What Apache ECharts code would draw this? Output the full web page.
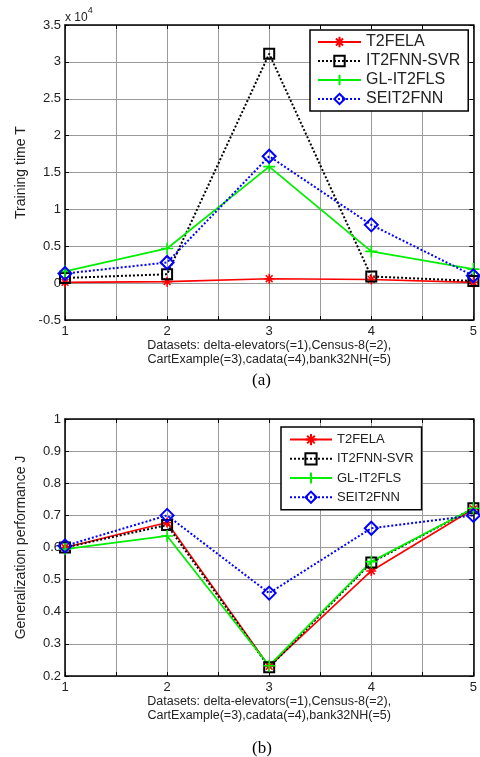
<!DOCTYPE html>
<html>
<head>
<meta charset="utf-8">
<script src="https://cdn.jsdelivr.net/npm/echarts@6/dist/echarts.min.js"></script>
<style>
  html, body { margin: 0; padding: 0; background: #fff; }
  #chart { width: 480px; height: 757px; }
</style>
</head>
<body>
<div id="chart"></div>
<script>
// datasets 1..5
const datasetIds = [1, 2, 3, 4, 5];
const methodNames = ["T2FELA", "IT2FNN-SVR", "GL-IT2FLS", "SEIT2FNN"];

// (a) training time, units of 10^4
const timeT2FELA = [0.01, 0.02, 0.06, 0.05, 0.01];
const timeSVR = [0.07, 0.12, 3.11, 0.09, 0.03];
const timeGL = [0.16, 0.47, 1.58, 0.43, 0.19];
const timeSEIT = [0.13, 0.28, 1.72, 0.79, 0.10];

// (b) generalization performance
const perfT2FELA = [0.60, 0.678, 0.23, 0.527, 0.72];
const perfSVR = [0.60, 0.67, 0.227, 0.553, 0.722];
const perfGL = [0.595, 0.636, 0.232, 0.556, 0.722];
const perfSEIT = [0.605, 0.70, 0.458, 0.66, 0.70];

const xTitle = "Datasets: delta-elevators(=1),Census-8(=2),\nCartExample(=3),cadata(=4),bank32NH(=5)";

const FONT = "Liberation Sans, Arial, sans-serif";
const starPath = "path://M5,0L5,10M0,5L10,5M1.6,1.6L8.4,8.4M8.4,1.6L1.6,8.4";
const plusPath = "path://M5,0L5,10M0,5L10,5";

const looks = {
  "T2FELA": { color: "#ff0000", type: "solid", width: 1.6, symbol: starPath, size: 10, bw: 1.6 },
  "IT2FNN-SVR": { color: "#000000", type: [2, 2], width: 2, symbol: "rect", size: 10, bw: 2 },
  "GL-IT2FLS": { color: "#00ee00", type: "solid", width: 1.8, symbol: plusPath, size: 12, bw: 1.6 },
  "SEIT2FNN": { color: "#0000ff", type: [2, 2], width: 2, symbol: "diamond", size: 13, bw: 2 }
};

function makeSeries(name, values, axisIdx) {
  const lk = looks[name];
  return {
    name: name,
    type: "line",
    xAxisIndex: axisIdx,
    yAxisIndex: axisIdx,
    data: datasetIds.map((d, i) => [d, values[i]]),
    symbol: lk.symbol,
    symbolSize: lk.size,
    showAllSymbol: true,
    lineStyle: { color: lk.color, type: lk.type, width: lk.width },
    itemStyle: { color: "rgba(0,0,0,0)", borderColor: lk.color, borderWidth: lk.bw },
    emphasis: { disabled: true },
    animation: false
  };
}

function xAxisOf(gridIndex, position, main) {
  return {
    type: "value",
    gridIndex: gridIndex,
    position: position,
    min: 1, max: 5, interval: 0.5,
    axisLine: { onZero: false, lineStyle: { color: "#000", width: 1.5 } },
    axisTick: { inside: true, length: 4, lineStyle: { color: "#000" } },
    axisLabel: {
      show: main, color: "#222", fontSize: 13, fontFamily: FONT, margin: 5,
      formatter: v => (v % 1 === 0 ? String(v) : "")
    },
    splitLine: { show: main, lineStyle: { color: "#9a9a9a", width: 1 } },
    name: main ? xTitle : "",
    nameLocation: "middle",
    nameGap: 18,
    nameTextStyle: { color: "#222", fontSize: 12.5, lineHeight: 14, fontFamily: FONT }
  };
}

function yAxisOf(gridIndex, position, main, min, max, interval, title) {
  return {
    type: "value",
    gridIndex: gridIndex,
    position: position,
    min: min, max: max, interval: interval,
    axisLine: { onZero: false, lineStyle: { color: "#000", width: 1.5 } },
    axisTick: { inside: true, length: 4, lineStyle: { color: "#000" } },
    axisLabel: { show: main, color: "#222", fontSize: 13, fontFamily: FONT, margin: 4 },
    splitLine: { show: main, lineStyle: { color: "#9a9a9a", width: 1 } },
    name: main ? title : "",
    nameLocation: "middle",
    nameGap: 37,
    nameRotate: 90,
    nameTextStyle: { color: "#222", fontSize: 14, fontFamily: FONT }
  };
}

const chart = echarts.init(document.getElementById("chart"), null, { renderer: "canvas" });

chart.setOption({
  backgroundColor: "#fff",
  animation: false,
  grid: [
    { left: 65, top: 25, width: 411, height: 295 },
    { left: 65, top: 419, width: 411, height: 257 }
  ],
  xAxis: [
    xAxisOf(0, "bottom", true),
    xAxisOf(1, "bottom", true),
    xAxisOf(0, "top", false),
    xAxisOf(1, "top", false)
  ],
  yAxis: [
    yAxisOf(0, "left", true, -0.5, 3.5, 0.5, "Training time T"),
    yAxisOf(1, "left", true, 0.2, 1, 0.1, "Generalization performance J"),
    yAxisOf(0, "right", false, -0.5, 3.5, 0.5, ""),
    yAxisOf(1, "right", false, 0.2, 1, 0.1, "")
  ],
  legend: [
    {
      data: methodNames, orient: "vertical", left: 310, top: 30,
      itemWidth: 43, itemHeight: 13, itemGap: 3,
      padding: [4, 8, 4, 7],
      borderColor: "#000", borderWidth: 1.5, backgroundColor: "#fff",
      selectedMode: false,
      textStyle: { color: "#222", fontSize: 16, fontFamily: FONT }
    },
    {
      data: methodNames, orient: "vertical", left: 281, top: 427,
      itemWidth: 42, itemHeight: 14, itemGap: 6,
      padding: [6, 8, 6, 8],
      borderColor: "#000", borderWidth: 1.5, backgroundColor: "#fff",
      selectedMode: false,
      textStyle: { color: "#222", fontSize: 13, fontFamily: FONT }
    }
  ],
  graphic: [
    {
      type: "text", left: 65, top: 6,
      style: {
        text: "{b|x 10}{s|4}",
        rich: {
          b: { fontSize: 12, fontFamily: FONT, fill: "#222", padding: [6, 0, 0, 0] },
          s: { fontSize: 9, fontFamily: FONT, fill: "#222", verticalAlign: "top" }
        }
      }
    },
    {
      type: "text", left: 252, top: 372,
      style: { text: "(a)", fontSize: 17, fontFamily: "Liberation Serif, Times New Roman, serif", fill: "#000" }
    },
    {
      type: "text", left: 252, top: 740,
      style: { text: "(b)", fontSize: 17, fontFamily: "Liberation Serif, Times New Roman, serif", fill: "#000" }
    }
  ],
  series: [
    makeSeries("T2FELA", timeT2FELA, 0),
    makeSeries("IT2FNN-SVR", timeSVR, 0),
    makeSeries("GL-IT2FLS", timeGL, 0),
    makeSeries("SEIT2FNN", timeSEIT, 0),
    makeSeries("T2FELA", perfT2FELA, 1),
    makeSeries("IT2FNN-SVR", perfSVR, 1),
    makeSeries("GL-IT2FLS", perfGL, 1),
    makeSeries("SEIT2FNN", perfSEIT, 1)
  ]
});
</script>
</body>
</html>
